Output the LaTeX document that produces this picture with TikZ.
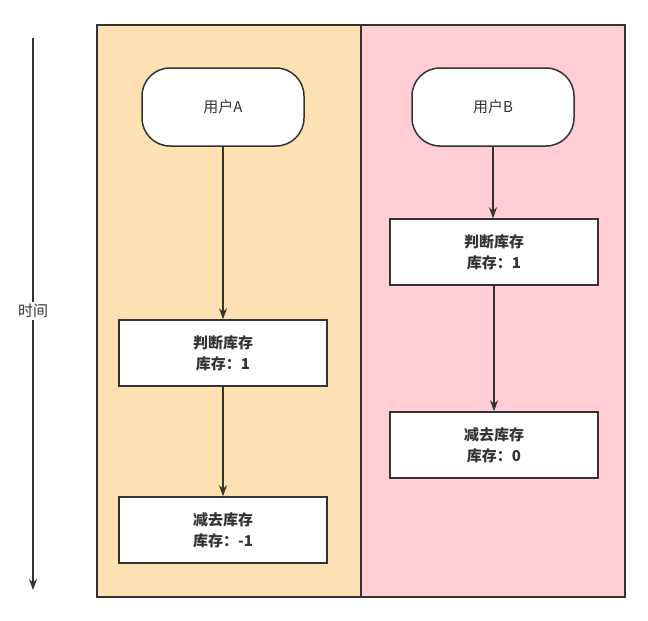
\documentclass[tikz,border=0pt]{standalone}
\usepackage{fontspec}
\setmainfont{Noto Sans CJK SC}
\usetikzlibrary{arrows.meta}
\begin{document}
\begin{tikzpicture}[x=1pt,y=-1pt,
 lane/.style={draw=black!80,line width=1.5pt},
 term/.style={draw=black!80,line width=1.5pt,fill=white,rounded corners=28pt,minimum width=162pt,minimum height=78pt,font=\fontsize{15}{18}\selectfont,text=black!80},
 box/.style={draw=black!80,line width=1.5pt,fill=white,minimum width=208pt,minimum height=66pt,font=\bfseries\fontsize{15}{21}\selectfont,text=black!80,align=center},
 arr/.style={draw=black!80,line width=1.5pt,-{Stealth[length=11pt,width=8pt]}}]
\useasboundingbox (0,0) rectangle (648,621);
\fill[white] (0,0) rectangle (648,621);
\draw[lane,fill={rgb,255:red,255;green,224;blue,179}] (97,25) rectangle (361,597);
\draw[lane,fill={rgb,255:red,255;green,205;blue,211}] (361,25) rectangle (625,597);
\coordinate (t0) at (33,38);
\coordinate (t1) at (33,590);
\draw[arr] (t0) -- (t1);
\node[fill=white,inner sep=2pt,font=\fontsize{15}{18}\selectfont,text=black!80] (time) at (33,311) {时间};
\node[term] (ua) at (223,107) {用户A};
\node[term] (ub) at (493,107) {用户B};
\node[box] (a1) at (223,353) {判断库存\\库存：1};
\node[box] (a2) at (223,530) {减去库存\\库存：-1};
\node[box] (b1) at (494,252) {判断库存\\库存：1};
\node[box] (b2) at (494,445) {减去库存\\库存：0};
\draw[arr] (ua) -- (a1);
\draw[arr] (a1) -- (a2);
\draw[arr] (ub.south) -- (b1.north -| ub.south);
\draw[arr] (b1) -- (b2);
\end{tikzpicture}
\end{document}
